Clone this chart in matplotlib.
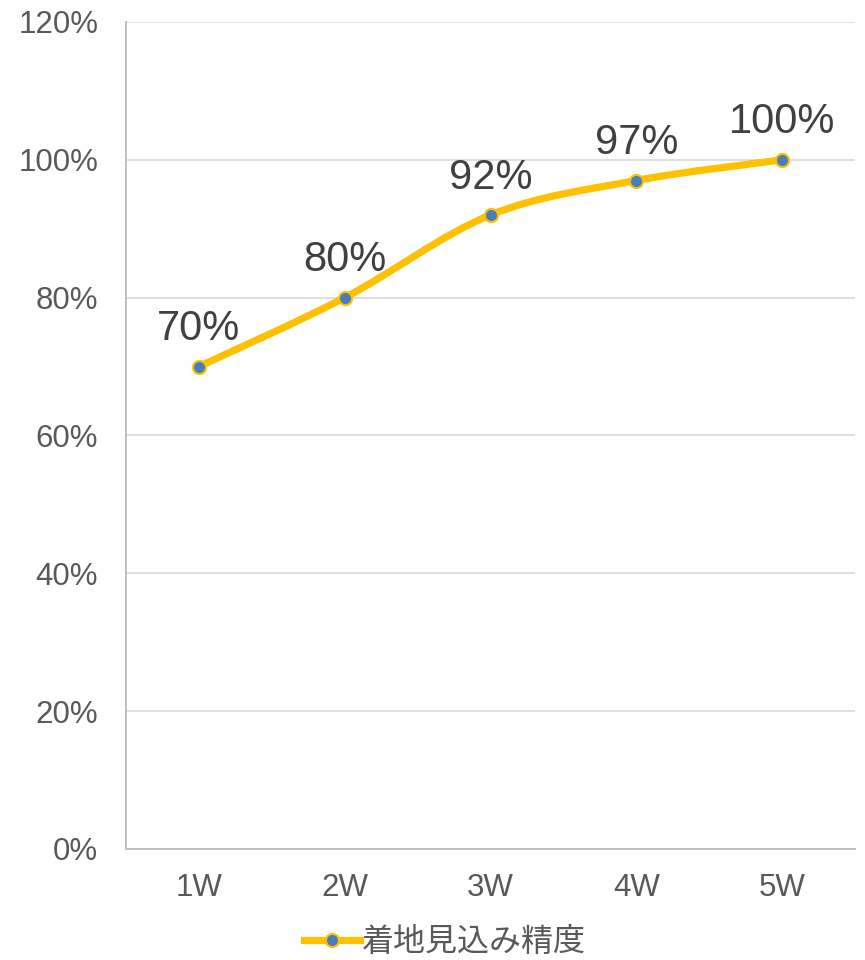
import numpy as np
import matplotlib
matplotlib.use("Agg")
import matplotlib.pyplot as plt
from matplotlib.path import Path
from matplotlib.patches import PathPatch
from matplotlib.lines import Line2D
from matplotlib.ticker import FuncFormatter

categories = ["1W", "2W", "3W", "4W", "5W"]
values = [0.70, 0.80, 0.92, 0.97, 1.00]
labels = ["70%", "80%", "92%", "97%", "100%"]
series_name = "着地見込み精度"
yticks = [0, 0.2, 0.4, 0.6, 0.8, 1.0, 1.2]

plt.rcParams['font.family'] = ['Liberation Sans', 'Noto Sans CJK JP', 'DejaVu Sans']

LINE = "#FFC000"
MARK = "#4A7EBB"

fig = plt.figure(figsize=(8.65, 9.6), dpi=100)
ax = fig.add_axes([126/865, 1-849/960, (855-126)/865, (849-22)/960])

x = np.arange(len(categories)) + 0.5
y = np.array(values)

ax.set_xlim(0, len(categories))
ax.set_ylim(0, 1.2)

# Excel-like smoothed line: cubic Bezier with Catmull-Rom control points
P = np.column_stack([x, y])
verts = [tuple(P[0])]
codes = [Path.MOVETO]
n = len(P)
for i in range(n - 1):
    p0 = P[i - 1] if i > 0 else P[i]
    p1 = P[i]
    p2 = P[i + 1]
    p3 = P[i + 2] if i + 2 < n else P[i + 1]
    c1 = p1 + (p2 - p0) / 6.0
    c2 = p2 - (p3 - p1) / 6.0
    verts += [tuple(c1), tuple(c2), tuple(p2)]
    codes += [Path.CURVE4] * 3
path = Path(verts, codes)
ax.add_patch(PathPatch(path, facecolor="none", edgecolor=LINE, lw=5.2,
                       capstyle="round", joinstyle="round", zorder=3))
ax.plot(x, y, linestyle="none", marker="o", markersize=9.5,
        markerfacecolor=MARK, markeredgecolor=LINE, markeredgewidth=1.5, zorder=4)

for xi, yi, lab in zip(x, y, labels):
    ax.annotate(lab, (xi, yi), xytext=(0, 19), textcoords="offset points",
                ha="center", va="baseline", fontsize=30, color="#404040", zorder=5)

ax.set_xticks(x)
ax.set_xticklabels(categories)
ax.set_yticks(yticks)
ax.yaxis.set_major_formatter(FuncFormatter(lambda v, p: f"{v*100:.0f}%"))
ax.tick_params(axis="both", length=0, labelsize=22.5, labelcolor="#595959")
ax.tick_params(axis="y", pad=20)
ax.tick_params(axis="x", pad=17)

ax.grid(axis="y", color="#D9D9D9", lw=1.2)
ax.set_axisbelow(True)
for s in ["top", "right"]:
    ax.spines[s].set_visible(False)
for s in ["left", "bottom"]:
    ax.spines[s].set_color("#BFBFBF")
    ax.spines[s].set_linewidth(1.4)

handle = Line2D([0], [0], color=LINE, lw=5.2, marker="o", markersize=9.5,
                markerfacecolor=MARK, markeredgecolor=LINE, markeredgewidth=1.5)
fig.legend([handle], [series_name], loc="center", bbox_to_anchor=(445/865, 1-942/960),
           frameon=False, labelcolor="#595959", handlelength=1.75,
           handletextpad=0.05, prop={'family': ['Noto Sans CJK JP'], 'size': 23})

fig.savefig("out.png", dpi=100, facecolor="white")
